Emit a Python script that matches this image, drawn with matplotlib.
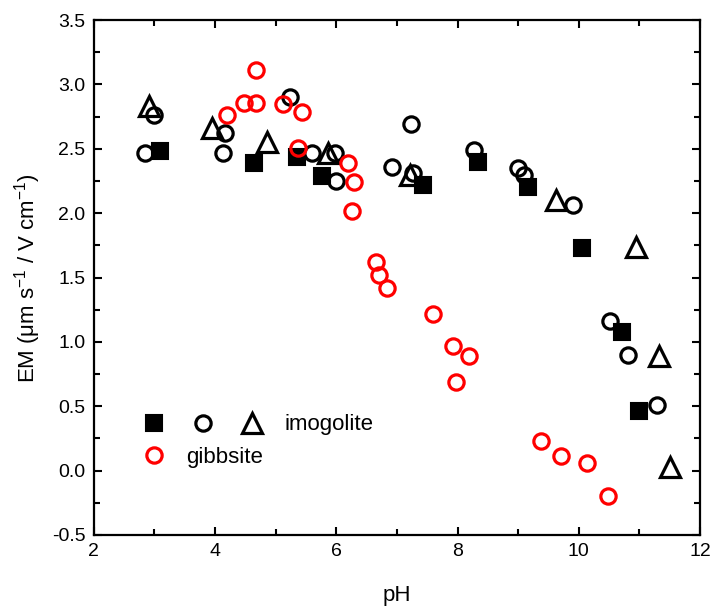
import matplotlib
matplotlib.use("Agg")
import matplotlib.pyplot as plt
from matplotlib.legend_handler import HandlerTuple
from matplotlib.ticker import MultipleLocator

plt.rcParams['font.family'] = ['Liberation Sans', 'DejaVu Sans']
plt.rcParams['mathtext.fontset'] = 'custom'
plt.rcParams['mathtext.rm'] = 'Liberation Sans'
plt.rcParams['mathtext.default'] = 'regular'
plt.rcParams['axes.unicode_minus'] = False

# imogolite, three samples (filled squares, open circles, open triangles)
sq_ph = [3.09, 4.64, 5.35, 5.76, 7.43, 8.34, 9.16, 10.05, 10.71, 11.0]
sq_em = [2.48, 2.39, 2.44, 2.29, 2.22, 2.40, 2.20, 1.73, 1.08, 0.46]

ci_ph = [2.84, 2.99, 4.16, 4.13, 5.23, 5.60, 5.98, 5.99, 7.23, 6.92, 7.26,
         8.27, 9.00, 9.10, 9.90, 10.52, 10.81, 11.29]
ci_em = [2.47, 2.76, 2.62, 2.47, 2.90, 2.47, 2.47, 2.25, 2.69, 2.36, 2.31,
         2.49, 2.35, 2.30, 2.06, 1.16, 0.90, 0.51]

tr_ph = [2.91, 3.95, 4.85, 5.87, 7.21, 9.63, 10.94, 11.32, 11.50]
tr_em = [2.83, 2.66, 2.55, 2.47, 2.30, 2.10, 1.74, 0.89, 0.03]

# gibbsite
gb_ph = [4.19, 4.48, 4.67, 4.67, 5.12, 5.43, 5.37, 6.19, 6.29, 6.26, 6.65,
         6.70, 6.84, 7.59, 7.92, 8.19, 7.97, 9.38, 9.71, 10.14, 10.48]
gb_em = [2.76, 2.86, 2.86, 3.11, 2.85, 2.79, 2.51, 2.39, 2.24, 2.02, 1.62,
         1.52, 1.42, 1.22, 0.97, 0.89, 0.69, 0.23, 0.11, 0.06, -0.20]

fig = plt.figure(figsize=(7.1, 6.1), dpi=100)
ax = fig.add_axes([0.132, 0.123, 0.854, 0.844])

sq, = ax.plot(sq_ph, sq_em, 's', ms=11.5, color='black', mew=1.5, ls='none')
ci, = ax.plot(ci_ph, ci_em, 'o', ms=11, mfc='none', mec='black', mew=2.3, ls='none')
tr, = ax.plot(tr_ph, tr_em, '^', ms=14, mfc='none', mec='black', mew=2.3, ls='none')
gb, = ax.plot(gb_ph, gb_em, 'o', ms=11, mfc='none', mec='red', mew=2.3, ls='none')

ax.set_xlim(2, 12)
ax.set_ylim(-0.5, 3.5)
ax.xaxis.set_major_locator(MultipleLocator(2))
ax.xaxis.set_minor_locator(MultipleLocator(1))
ax.yaxis.set_major_locator(MultipleLocator(0.5))
ax.yaxis.set_minor_locator(MultipleLocator(0.25))
ax.tick_params(which='both', direction='in', top=True, right=True, width=1.5, labelsize=14)
ax.tick_params(which='major', length=6, pad=6)
ax.tick_params(which='minor', length=4)
for s in ax.spines.values():
    s.set_linewidth(1.6)

ax.set_xlabel('pH', fontsize=16, labelpad=18)
ax.set_ylabel('EM (μm s$^{-1}$ / V cm$^{-1}$)', fontsize=16, labelpad=6)

leg1 = ax.legend([(sq, ci, tr)], ['imogolite'], handler_map={tuple: HandlerTuple(ndivide=None, pad=0)},
                 loc='center left', bbox_to_anchor=(0.059, 0.214), frameon=False, fontsize=16,
                 handlelength=6.6, handletextpad=0.36, borderpad=0, borderaxespad=0, numpoints=1)
ax.add_artist(leg1)
ax.legend([gb], ['gibbsite'], loc='center left', bbox_to_anchor=(0.063, 0.150), frameon=False,
          fontsize=16, handlelength=2, handletextpad=0.45, borderpad=0, borderaxespad=0, numpoints=1)

fig.savefig('out.png', dpi=100)
